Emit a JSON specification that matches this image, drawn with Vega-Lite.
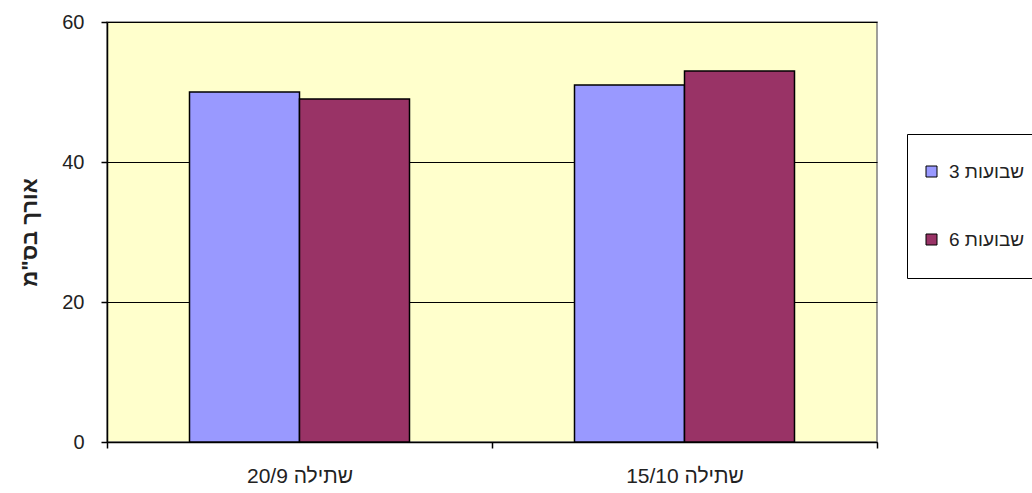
{
  "$schema": "https://vega.github.io/schema/vega-lite/v6.json",
  "width": 770,
  "height": 420,
  "autosize": {"type": "none"},
  "padding": {"left": 107, "top": 22, "right": 155, "bottom": 51},
  "background": "white",
  "config": {
    "font": "Liberation Sans",
    "view": {"fill": "#FFFFCC", "stroke": "#808080", "strokeWidth": 1.5}
  },
  "data": {
    "values": [
      {"date": "20/9 שתילה", "series": "3 שבועות", "length": 50},
      {"date": "20/9 שתילה", "series": "6 שבועות", "length": 49},
      {"date": "15/10 שתילה", "series": "3 שבועות", "length": 51},
      {"date": "15/10 שתילה", "series": "6 שבועות", "length": 53}
    ]
  },
  "mark": {"type": "bar", "stroke": "black", "strokeWidth": 1.5},
  "encoding": {
    "x": {
      "field": "date",
      "type": "nominal",
      "sort": ["20/9 שתילה", "15/10 שתילה"],
      "scale": {"paddingInner": 0, "paddingOuter": 0},
      "axis": {
        "title": null,
        "labelAngle": 0,
        "tickBand": "extent",
        "domainColor": "black",
        "domainWidth": 1.5,
        "tickColor": "black",
        "tickWidth": 1.5,
        "tickSize": 6,
        "labelFontSize": 21,
        "labelColor": "#222",
        "labelPadding": 17
      }
    },
    "xOffset": {
      "field": "series",
      "type": "nominal",
      "scale": {"paddingInner": 0, "paddingOuter": 0.75}
    },
    "y": {
      "field": "length",
      "type": "quantitative",
      "scale": {"domain": [0, 60], "nice": false},
      "axis": {
        "title": "אורך בס\"מ",
        "titleFontSize": 22,
        "titleFontWeight": "bold",
        "titleColor": "#222",
        "titlePadding": 20,
        "values": [0, 20, 40, 60],
        "grid": true,
        "gridColor": "black",
        "gridOpacity": 1,
        "gridWidth": 1.2,
        "domainColor": "black",
        "domainWidth": 1.5,
        "tickColor": "black",
        "tickWidth": 1.5,
        "tickSize": 6,
        "labelFontSize": 20,
        "labelColor": "#222",
        "labelPadding": 17
      }
    },
    "color": {
      "field": "series",
      "type": "nominal",
      "scale": {"domain": ["3 שבועות", "6 שבועות"], "range": ["#9999FF", "#993366"]},
      "legend": {
        "title": null,
        "orient": "none",
        "legendX": 800,
        "legendY": 112,
        "strokeColor": "black",
        "fillColor": "white",
        "padding": 28,
        "rowPadding": 48,
        "symbolType": "square",
        "symbolSize": 121,
        "symbolStrokeColor": "black",
        "symbolStrokeWidth": 1,
        "symbolOffset": -13,
        "labelOffset": 8,
        "labelFontSize": 19,
        "labelColor": "#222"
      }
    }
  }
}
